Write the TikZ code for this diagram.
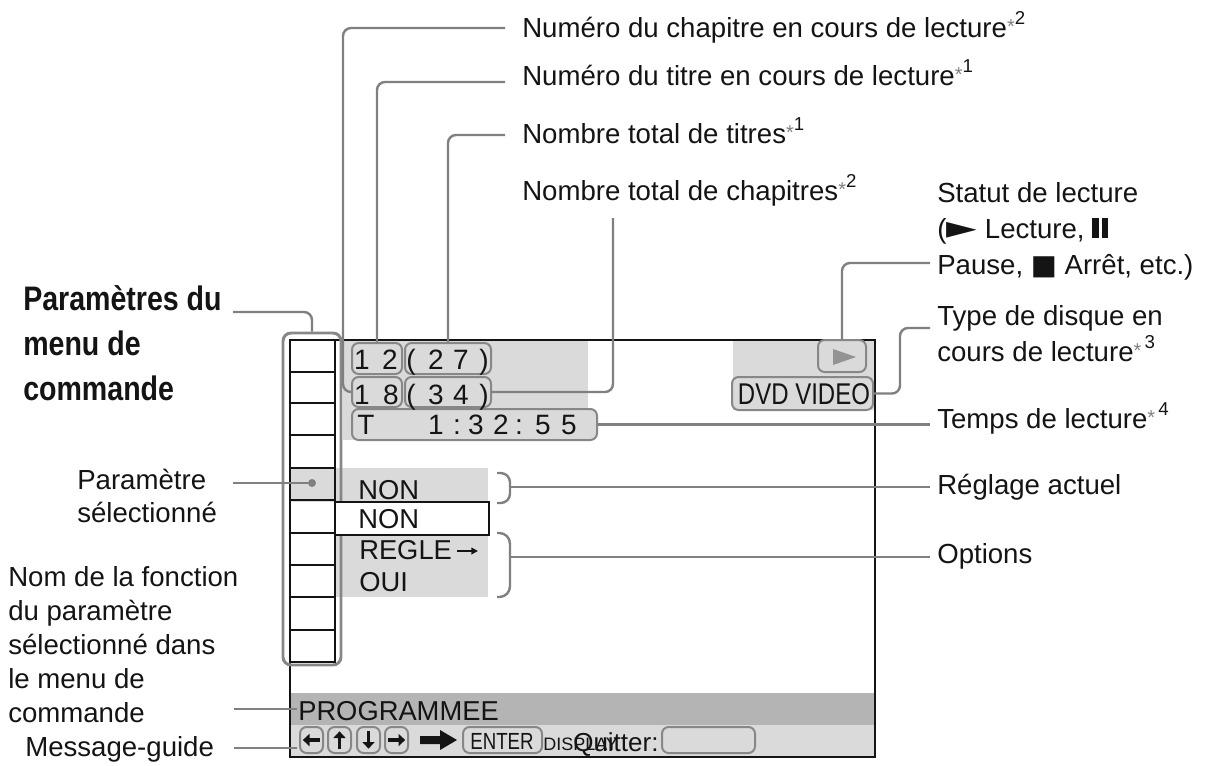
\documentclass[tikz,border=0pt]{standalone}
\usepackage{fontspec}
\setmainfont{Liberation Sans}
\newfontfamily\narrowfont[FakeStretch=0.8]{Liberation Sans}
\newfontfamily\headfont[FakeStretch=0.84]{Liberation Sans}
\newfontfamily\symfont{DejaVu Sans}
\usetikzlibrary{fit,arrows.meta}
\definecolor{leadc}{RGB}{128,128,128}
\definecolor{lightfill}{RGB}{218,218,218}
\definecolor{barfill}{RGB}{180,180,180}
\definecolor{boxline}{RGB}{135,135,135}
\definecolor{ink}{RGB}{20,20,20}
\newcommand\stnote[1]{\raisebox{0.12em}{\fontsize{15}{15}\selectfont\textcolor{leadc}{*}}\raisebox{0.45em}{\fontsize{14}{14}\selectfont #1}}
\begin{document}
\begin{tikzpicture}[x=0.75pt,y=-0.75pt,
  lbl/.style={font=\fontsize{20.7}{24}\selectfont, inner sep=0pt, anchor=base west, text=ink},
  head/.style={font=\headfont\bfseries\fontsize{25.5}{30}\selectfont, inner sep=0pt, anchor=base west, text=ink},
  leader/.style={draw=leadc, line width=1.8pt, rounded corners=6pt},
  sbox/.style={draw=boxline, line width=1.5pt, rounded corners=5pt, fill=lightfill, inner sep=0pt},
  scr/.style={font=\fontsize{21}{24}\selectfont, inner sep=0pt, anchor=base, text=ink},
  scrl/.style={font=\fontsize{20.5}{24}\selectfont, inner sep=0pt, anchor=base west, text=ink},
  btnarrow/.style={draw=ink, line width=2.8pt, -{Triangle[length=5pt,width=9pt]}},
]
\useasboundingbox (0,0) rectangle (1206,765);

% ---------- screen backgrounds ----------
\fill[lightfill] (343,340) rectangle (588,440);
\fill[lightfill] (733,340) rectangle (875,410);
\fill[lightfill] (290,468) rectangle (488,502);
\fill[lightfill] (335,535) rectangle (488,597);
\fill[barfill] (290,693) rectangle (875,725);
\fill[lightfill] (290,725) rectangle (875,757);

\node[draw=ink, line width=2pt, fit={(290,340) (875,757)}, inner sep=0pt] (screen) {};

% ---------- menu column ----------
\draw[ink, line width=1.3pt] (290,340) rectangle (335,662);
\foreach \yy in {372,403,435,468,500,533,565,597,630}
  \draw[ink, line width=1.3pt] (290,\yy) -- (335,\yy);
\node[draw=boxline, line width=2.2pt, rounded corners=6pt, fit={(283,333) (341,665)}, inner sep=0pt] (colbox) {};
\node[circle, fill=leadc, inner sep=0pt, minimum size=6pt] (seldot) at (312,483) {};

% ---------- info boxes ----------
\node[sbox, fit={(352,343) (402,374)}] (b12) {};
\node[sbox, fit={(405,343) (491,374)}] (b27) {};
\node[sbox, fit={(352,377) (402,407)}] (b18) {};
\node[sbox, fit={(405,377) (491,407)}] (b34) {};
\node[sbox, fit={(352,409) (597,440)}] (bT) {};
\node[sbox, fit={(818,340) (866,372)}] (bplay) {};
\node[sbox, fit={(732,377) (873,410)}] (bdvd) {};
\fill[leadc!85] (833,349) -- (856,357) -- (833,365) -- cycle;

\node[scr] (d1) at (362,369) {1};
\node[scr] (d2) at (390,369) {2};
\node[scr] (d3) at (411,369) {(};
\node[scr] (d4) at (436,369) {2};
\node[scr] (d5) at (461,369) {7};
\node[scr] (d6) at (484,369) {)};
\node[scr] (e1) at (362,404) {1};
\node[scr] (e2) at (391,404) {8};
\node[scr] (e3) at (411,404) {(};
\node[scr] (e4) at (436,404) {3};
\node[scr] (e5) at (461,404) {4};
\node[scr] (e6) at (484,404) {)};
\node[scr] (t0) at (366,434) {T};
\node[scr] (t1) at (436,434) {1};
\node[scr] (t2) at (457,434) {:};
\node[scr] (t3) at (476,434) {3};
\node[scr] (t4) at (501,434) {2};
\node[scr] (t5) at (519,434) {:};
\node[scr] (t6) at (543,434) {5};
\node[scr] (t7) at (569,434) {5};
\node[font=\narrowfont\fontsize{22.5}{26}\selectfont, inner sep=0pt, anchor=base, text=ink] (dvd) at (804,404) {DVD VIDEO};

% ---------- settings ----------
\node[draw=ink, fill=white, line width=1.2pt, fit={(335,502) (489,535)}, inner sep=0pt] (curbox) {};
\node[scrl] (non1) at (358,499) {NON};
\node[scrl] (non2) at (358,528) {NON};
\node[scrl] (regle) at (359,559) {REGLE};
\node[scrl] (oui) at (359,591) {OUI};
\coordinate (ra1) at (457,551);
\coordinate (ra2) at (478,551);
\draw[draw=ink, line width=1.3pt, -{Triangle[length=5pt,width=5pt]}] (ra1) -- (ra2);

% ---------- bottom bars ----------
\node[scrl] (prog) at (298,720) {PROGRAMMEE};
\node[sbox, fit={(300,727) (323,753)}] (k1) {};
\node[sbox, fit={(328,727) (351,753)}] (k2) {};
\node[sbox, fit={(357,727) (380,753)}] (k3) {};
\node[sbox, fit={(385,727) (408,753)}] (k4) {};
\draw[btnarrow] ([xshift=6.5pt]k1.center) -- ([xshift=-6.5pt]k1.center);
\draw[btnarrow] ([yshift=-6.5pt]k2.center) -- ([yshift=6.5pt]k2.center);
\draw[btnarrow] ([yshift=6.5pt]k3.center) -- ([yshift=-6.5pt]k3.center);
\draw[btnarrow] ([xshift=-6.5pt]k4.center) -- ([xshift=6.5pt]k4.center);
\fill[ink] (420,736) -- (440,736) -- (440,730) -- (457,740) -- (440,750) -- (440,744) -- (420,744) -- cycle;
\node[sbox, fit={(463,727) (542,753)}] (kent) {};
\node[font=\narrowfont\fontsize{17.5}{20}\selectfont, inner sep=0pt, anchor=base, text=ink] (enter) at (502,749) {ENTER};
\node[font=\fontsize{13.5}{16}\selectfont, inner sep=0pt, anchor=base west, text=ink] (disp) at (543,750) {DISPLAY};
\node[font=\fontsize{19.5}{22}\selectfont, inner sep=0pt, anchor=base west, text=ink] (quit) at (573,751) {Quitter:};
\node[sbox, fit={(662,727) (755,753)}] (kquit) {};

% ---------- top labels ----------
\node[lbl] (lchap) at (522,37) {Numéro du chapitre en cours de lecture\stnote{2}};
\node[lbl] (ltitre) at (522,85) {Numéro du titre en cours de lecture\stnote{1}};
\node[lbl] (ltitres) at (522,143) {Nombre total de titres\stnote{1}};
\node[lbl] (lchaps) at (522,200) {Nombre total de chapitres\stnote{2}};

% ---------- right labels ----------
\node[lbl] (lstat1) at (937,202) {Statut de lecture};
\node[lbl] (lstat2) at (937,238) {({\symfont\scalebox{1.45}[1.15]{►}} Lecture, \rule{0.24em}{0.74em}\hspace{0.1em}\rule{0.24em}{0.74em}};
\node[lbl] (lstat3) at (937,274) {Pause, {\symfont ■} Arrêt, etc.)};
\node[lbl] (ltype1) at (937,325) {Type de disque en};
\node[lbl] (ltype2) at (937,361) {cours de lecture\stnote{\,3}};
\node[lbl] (ltemps) at (937,428) {Temps de lecture\stnote{\,4}};
\node[lbl] (lregl) at (937,494) {Réglage actuel};
\node[lbl] (lopt) at (937,563) {Options};

% ---------- left labels ----------
\node[head] (lh1) at (23,310) {Paramètres du};
\node[head] (lh2) at (23,355) {menu de};
\node[head] (lh3) at (23,400) {commande};
\node[lbl] (lsel1) at (77,489) {Paramètre};
\node[lbl] (lsel2) at (77,522) {sélectionné};
\node[lbl] (lnom1) at (8,586) {Nom de la fonction};
\node[lbl] (lnom2) at (8,620) {du paramètre};
\node[lbl] (lnom3) at (8,654) {sélectionné dans};
\node[lbl] (lnom4) at (8,688) {le menu de};
\node[lbl] (lnom5) at (8,722) {commande};
\node[lbl] (lmsg) at (25,756) {Message-guide};

% ---------- leaders ----------
\coordinate (pchap) at (505,28);
\coordinate (ptitre) at (505,82);
\coordinate (ptitres) at (505,135);
\coordinate (pchaps) at (613,218);
\coordinate (pstat) at (930,263);
\coordinate (ptype) at (930,328);
\coordinate (ptemps) at (930,424.5);
\coordinate (pregl) at (930,487);
\coordinate (popt) at (930,557);
\draw[leader] (pchap) -| (343,392) -- (b18.west);
\draw[leader] (ptitre) -| (b12.north);
\draw[leader] (ptitres) -| (b27.north);
\draw[leader] (pchaps) |- (b34.east);
\draw[leader] (pstat) -| (bplay.north);
\draw[leader] (ptype) -| (900,393.5) -- (bdvd.east);
\draw[leader] (bT.east) -- (ptemps);
\draw[leader, rounded corners=7pt] (497,473) -- (510,473) -- (510,503) -- (497,503);
\draw[leader, rounded corners=8pt] (497,533) -- (510,533) -- (510,597) -- (497,597);
\draw[leader] (510,487) -- (pregl);
\draw[leader] (510,557) -- (popt);

\coordinate (phead) at (233,312);
\coordinate (psel) at (233,483);
\coordinate (pnom) at (234,709);
\coordinate (pmsg) at (234,748);
\coordinate (qnom) at (297,709);
\coordinate (qmsg) at (297,748);
\draw[leader] (phead) -| (colbox.north);
\draw[leader] (psel) -- (seldot);
\draw[leader] (pnom) -- (qnom);
\draw[leader] (pmsg) -- (qmsg);
\end{tikzpicture}
\end{document}
